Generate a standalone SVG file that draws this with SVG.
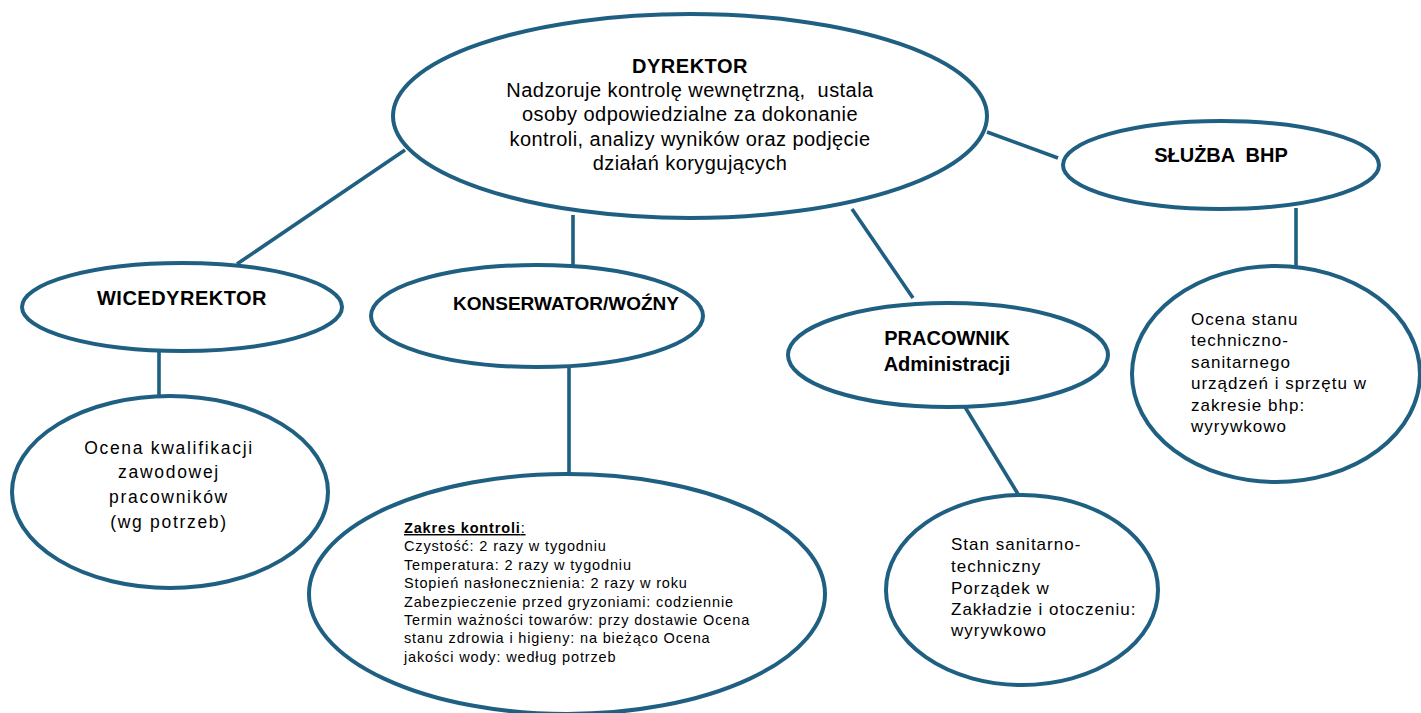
<svg xmlns="http://www.w3.org/2000/svg" width="1421" height="713" viewBox="0 0 1421 713">
<style>
.n{fill:#fff;stroke:#1F5F82;stroke-width:4}
.c line{stroke:#1F5F82;stroke-width:3.6;stroke-linecap:butt}
text{font-family:"Liberation Sans",Arial,sans-serif;fill:#000}
.b{font-weight:bold;font-size:20px;text-anchor:middle}
.d{font-size:20px;letter-spacing:0.45px;text-anchor:middle}
.k{font-size:17.5px;letter-spacing:1.7px;text-anchor:middle}
.s{font-size:17px;letter-spacing:1px}
.z{font-size:14.5px;letter-spacing:0.85px}
</style>
<rect width="1421" height="713" fill="#fff"/>
<g class="c" id="connectors">
<line x1="405" y1="150" x2="237" y2="264"/>
<line x1="573" y1="215" x2="573" y2="266"/>
<line x1="852" y1="209" x2="913" y2="298"/>
<line x1="987" y1="132" x2="1058" y2="158"/>
<line x1="159" y1="347" x2="159" y2="398"/>
<line x1="569" y1="367" x2="569" y2="474"/>
<line x1="965" y1="407" x2="1018" y2="494"/>
<line x1="1296" y1="208" x2="1296" y2="274"/>
</g>
<g id="dyrektor">
<ellipse class="n" cx="690" cy="116" rx="297" ry="102"/>
<text class="b" x="690" y="73" style="letter-spacing:0.5px">DYREKTOR</text>
<text class="d" x="690" y="97" xml:space="preserve">Nadzoruje kontrolę wewnętrzną,  ustala</text>
<text class="d" x="690" y="121">osoby odpowiedzialne za dokonanie</text>
<text class="d" x="690" y="146">kontroli, analizy wyników oraz podjęcie</text>
<text class="d" x="690" y="170">działań korygujących</text>
</g>
<g id="wicedyrektor">
<ellipse class="n" cx="182" cy="307" rx="160" ry="44"/>
<text class="b" x="182" y="305" style="letter-spacing:0.5px">WICEDYREKTOR</text>
</g>
<g id="konserwator">
<ellipse class="n" cx="537" cy="316" rx="166" ry="51"/>
<text class="b" x="566" y="310" style="font-size:19px">KONSERWATOR/WOŹNY</text>
</g>
<g id="pracownik">
<ellipse class="n" cx="948" cy="355" rx="160" ry="52"/>
<text class="b" x="947" y="345">PRACOWNIK</text>
<text class="b" x="947" y="371">Administracji</text>
</g>
<g id="bhp">
<ellipse class="n" cx="1221" cy="165" rx="158" ry="44"/>
<text class="b" x="1221" y="162" xml:space="preserve">SŁUŻBA  BHP</text>
</g>
<g id="ocena-kwalifikacji">
<ellipse class="n" cx="170" cy="492" rx="158" ry="96"/>
<text class="k" x="169" y="454">Ocena kwalifikacji</text>
<text class="k" x="169" y="478">zawodowej</text>
<text class="k" x="169" y="503">pracowników</text>
<text class="k" x="169" y="528">(wg potrzeb)</text>
</g>
<g id="zakres-kontroli">
<ellipse class="n" cx="567" cy="594" rx="258" ry="120"/>
<text class="z" x="404" y="533" text-decoration="underline"><tspan font-weight="bold">Zakres kontroli</tspan>:</text>
<text class="z" x="404" y="551.4">Czystość: 2 razy w tygodniu</text>
<text class="z" x="404" y="569.8">Temperatura: 2 razy w tygodniu</text>
<text class="z" x="404" y="588.2">Stopień nasłonecznienia: 2 razy w roku</text>
<text class="z" x="404" y="606.6">Zabezpieczenie przed gryzoniami: codziennie</text>
<text class="z" x="404" y="625">Termin ważności towarów: przy dostawie Ocena</text>
<text class="z" x="404" y="643.4">stanu zdrowia i higieny: na bieżąco Ocena</text>
<text class="z" x="404" y="661.8">jakości wody: według potrzeb</text>
</g>
<g id="stan-sanitarno">
<ellipse class="n" cx="1022" cy="590" rx="136" ry="95"/>
<text class="s" x="951" y="550">Stan sanitarno-</text>
<text class="s" x="951" y="572">techniczny</text>
<text class="s" x="951" y="594">Porządek w</text>
<text class="s" x="951" y="615">Zakładzie i otoczeniu:</text>
<text class="s" x="951" y="636">wyrywkowo</text>
</g>
<g id="ocena-bhp">
<ellipse class="n" cx="1276" cy="374" rx="144" ry="108"/>
<text class="s" x="1191" y="325">Ocena stanu</text>
<text class="s" x="1191" y="346">techniczno-</text>
<text class="s" x="1191" y="368">sanitarnego</text>
<text class="s" x="1191" y="389">urządzeń i sprzętu w</text>
<text class="s" x="1191" y="411">zakresie bhp:</text>
<text class="s" x="1191" y="432">wyrywkowo</text>
</g>
</svg>
